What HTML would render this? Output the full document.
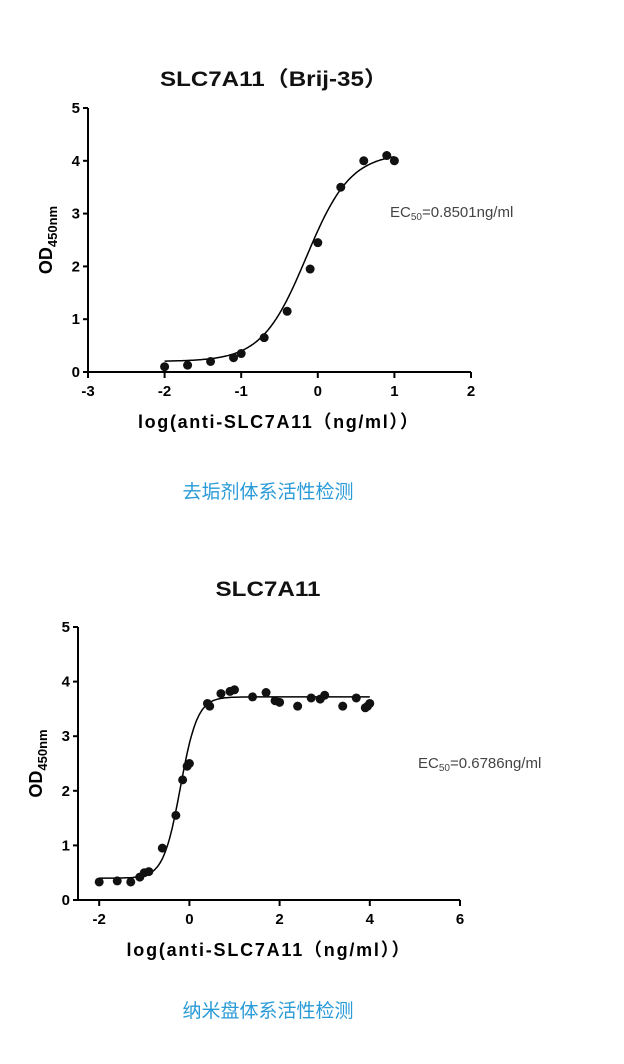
<!DOCTYPE html>
<html><head><meta charset="utf-8"><style>
body{margin:0;background:#fff;}
svg text{font-family:"Liberation Sans","Noto Sans CJK SC",sans-serif;}
</style></head><body>
<svg width="624" height="1059" xmlns="http://www.w3.org/2000/svg" id="root">
<g id="c1"></g>
<g id="c2"></g>
<text x="268" y="498" text-anchor="middle" font-size="19" fill="#2a9bd8">去垢剂体系活性检测</text>
<text x="268" y="1017" text-anchor="middle" font-size="19" fill="#2a9bd8">纳米盘体系活性检测</text>
</svg>
<script>
const c1X=[-2,-1.7,-1.4,-1.1,-1,-0.7,-0.4,-0.1,0,0.3,0.6,0.9,1];
const c1Y=[0.1,0.13,0.2,0.27,0.35,0.65,1.15,1.95,2.45,3.5,4.0,4.1,4.0];
const c1Fit=[0.2,4.15,-0.15,1.5];
const c1XTicks=[-3,-2,-1,0,1,2];
const c1YTicks=[0,1,2,3,4,5];
const c2X=[-2,-1.6,-1.3,-1.1,-1,-0.9,-0.6,-0.3,-0.15,-0.05,0,0.4,0.45,0.7,0.9,1,1.4,1.7,1.9,2,2.4,2.7,2.9,3,3.4,3.7,3.9,4,3.95];
const c2Y=[0.33,0.35,0.33,0.42,0.5,0.52,0.95,1.55,2.2,2.45,2.5,3.6,3.55,3.78,3.82,3.85,3.72,3.8,3.65,3.62,3.55,3.7,3.68,3.75,3.55,3.7,3.52,3.6,3.55];
const c2Fit=[0.4,3.72,-0.2,2.3];
const c2XTicks=[-2,0,2,4,6];
const c2YTicks=[0,1,2,3,4,5];
const NS="http://www.w3.org/2000/svg";
function mk(p,t,a,txt){const e=document.createElementNS(NS,t);for(const k in a)e.setAttribute(k,a[k]);if(txt!=null)e.textContent=txt;p.appendChild(e);return e;}
function draw(g,o){
 const sx=v=>o.x0+(v-o.xmin)*o.kx, sy=v=>o.y0-v*o.ky;
 const t=mk(g,'text',{x:o.tx,y:o.ty,'text-anchor':'middle','font-size':21,'font-weight':'bold',fill:'#111',textLength:o.tw,lengthAdjust:'spacingAndGlyphs'},o.title);
 
 
 const ya=mk(g,'line',{x1:o.x0,y1:sy(5),x2:o.x0,y2:o.y0,stroke:'#000','stroke-width':2});
 
 
 const xa=mk(g,'line',{x1:o.x0,y1:o.y0,x2:sx(o.xt[o.xt.length-1]),y2:o.y0,stroke:'#000','stroke-width':2});
 
 
 o.yt.forEach(v=>{mk(g,'line',{x1:o.x0-5,y1:sy(v),x2:o.x0,y2:sy(v),stroke:'#000','stroke-width':2});
  const l=mk(g,'text',{x:o.x0-8,y:sy(v)+5,'text-anchor':'end','font-size':15,'font-weight':'bold'},v);
  
  });
 o.xt.forEach(v=>{mk(g,'line',{x1:sx(v),y1:o.y0,x2:sx(v),y2:o.y0+6,stroke:'#000','stroke-width':2});
  const l=mk(g,'text',{x:sx(v),y:o.y0+24,'text-anchor':'middle','font-size':15,'font-weight':'bold'},v);
  
  });
 const [b,tp,ec,h]=o.fit;let d='';
 for(let i=0;i<=200;i++){const x=o.fx0+(o.fx1-o.fx0)*i/200;const y=b+(tp-b)/(1+Math.pow(10,(ec-x)*h));d+=(i?'L':'M')+sx(x).toFixed(1)+','+sy(y).toFixed(1);}
 const c=mk(g,'path',{d:d,fill:'none',stroke:'#000','stroke-width':1.5});
 
 
 o.X.forEach((x,i)=>{const p=mk(g,'circle',{cx:sx(x),cy:sy(o.Y[i]),r:4.5,fill:'#111'});
  
  });
 const yl=mk(g,'text',{transform:`translate(${o.x0-36},${(sy(5)+o.y0)/2}) rotate(-90)`,'text-anchor':'middle','font-size':18,'font-weight':'bold'});
 
 
 yl.innerHTML='OD<tspan font-size="13" dy="5">450nm</tspan>';
 const xl=mk(g,'text',{x:o.xlx,y:o.y0+56,'text-anchor':'middle','font-size':18,'font-weight':'bold',textLength:o.xlw,lengthAdjust:'spacing'},'log(anti-SLC7A11（ng/ml））');
 
 
 const ec50=mk(g,'text',{x:o.ex,y:o.ey,'font-size':15,fill:'#444'});
 
 
 ec50.innerHTML='EC<tspan font-size="10" dy="3">50</tspan><tspan dy="-3">='+o.ec+'</tspan>';
}
draw(document.getElementById('c1'),{x0:88,y0:372,xmin:-3,kx:76.6,ky:52.8,xt:c1XTicks,yt:c1YTicks,X:c1X,Y:c1Y,fit:c1Fit,fx0:-2,fx1:1,title:'SLC7A11（Brij-35）',tx:274,ty:86,tw:228,xlx:278,xlw:280,ex:390,ey:217,ec:'0.8501ng/ml'});
draw(document.getElementById('c2'),{x0:78,y0:900,xmin:-2.47,kx:45.1,ky:54.6,xt:c2XTicks,yt:c2YTicks,X:c2X,Y:c2Y,fit:c2Fit,fx0:-2,fx1:4,title:'SLC7A11',tx:268,ty:596,tw:105,xlx:268,xlw:283,ex:418,ey:768,ec:'0.6786ng/ml'});
</script>
</body></html>
